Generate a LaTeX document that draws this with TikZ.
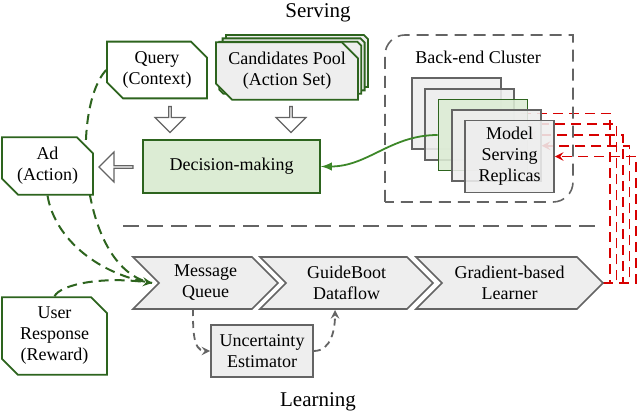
\documentclass[tikz,border=0pt]{standalone}
\usepackage{fontspec}
\setmainfont{Liberation Serif}
\usetikzlibrary{calc,shapes,arrows,backgrounds}

\definecolor{dkgreen}{RGB}{45,100,30}
\definecolor{lgreen}{RGB}{60,135,40}
\definecolor{decfill}{RGB}{220,236,212}
\definecolor{boxgray}{RGB}{238,238,238}
\definecolor{linegray}{RGB}{100,100,100}
\definecolor{fbred}{RGB}{215,0,0}

\tikzset{
  txt/.style={font=\fontsize{9}{10.5}\selectfont, align=center},
  title/.style={font=\fontsize{10.5}{12}\selectfont},
  ioblock/.style={txt, chamfered rectangle, chamfered rectangle corners={north east,south west},
    chamfered rectangle xsep=4pt, chamfered rectangle ysep=4pt, draw=dkgreen, line width=0.9pt,
    fill=white, inner sep=1pt},
  decide/.style={txt, rectangle, draw=dkgreen, line width=0.9pt, fill=decfill,
    minimum width=88.5pt, minimum height=26.5pt},
  replica/.style={txt, rectangle, draw=linegray, line width=0.8pt, fill=boxgray,
    fill opacity=0.88, text opacity=1, minimum width=44.5pt, minimum height=35.5pt},
  stage/.style={draw=linegray, fill=boxgray, line width=0.8pt},
  estbox/.style={txt, rectangle, draw=linegray, fill=boxgray, line width=0.8pt,
    minimum width=51pt, minimum height=26pt},
  blockarrow/.style={single arrow, draw=linegray, fill=white, line width=0.6pt, inner sep=0pt,
    minimum width=15pt, single arrow head extend=3.5pt, minimum height=13pt},
  feedback/.style={draw=fbred, line width=0.9pt, dash pattern=on 5pt off 3pt, -stealth},
  reward/.style={draw=dkgreen, line width=1pt, dash pattern=on 5pt off 3pt},
  flow/.style={draw=linegray, line width=0.9pt, dash pattern=on 3.5pt off 2.5pt, -stealth},
}

\begin{document}
\begin{tikzpicture}[x=0.5pt,y=-0.5pt]
\useasboundingbox (0,0) rectangle (640,415);

\node[title] (serving) at (318,13) {Serving};
\node[title] (learning) at (318,402) {Learning};

\node[ioblock, minimum width=50pt, minimum height=27pt] (query) at (157,70) {Query\\(Context)};
\foreach \i in {3,2,1}
  \node[ioblock, fill=boxgray, minimum width=71pt, minimum height=26pt] (cand\i)
    at ({287+3.3*\i},{71-3.3*\i}) {};
\node[ioblock, fill=boxgray, minimum width=71pt, minimum height=26pt] (cand) at (287,71)
  {Candidates Pool\\(Action Set)};

\node[blockarrow, shape border rotate=270] (qarr) at (170,119) {};
\node[blockarrow, shape border rotate=270] (carr) at (291,119) {};

\node[decide] (dec) at (231.5,166.5) {Decision-making};
\node[ioblock, minimum width=45.5pt, minimum height=22pt] (ad) at (47.5,166) {Ad\\(Action)};
\node[blockarrow, shape border rotate=180, minimum height=17pt] (adarr) at (116.5,167) {};

\draw[linegray, line width=0.8pt, dash pattern=on 6pt off 3.5pt]
  (385,202) -- (385,55) arc[start angle=180, end angle=90, radius=10pt] -- (573,35)
  -- (573,182) arc[start angle=0, end angle=-90, radius=10pt] -- cycle;
\node[txt] (clusterlabel) at (478,57) {Back-end Cluster};

\node[replica] (rep1) at (456.5,113.5) {};
\node[replica] (rep2) at (469.75,124.25) {};
\node[replica, draw=dkgreen, fill=decfill] (rep3) at (483,135) {};
\node[replica] (rep4) at (496.25,145.75) {};
\node[replica] (rep5) at (509.5,156.5) {Model\\Serving\\Replicas};

\draw[lgreen, line width=0.9pt, -latex] (rep3.west) to[out=180, in=0] (dec.east);

\draw[linegray, line width=1.2pt, dash pattern=on 8pt off 4pt] (123,226) -- (600,226);

\foreach \lft/\tip in {133/278, 260/433, 416/603}
  \draw[stage] (\lft,257) -- ({\tip-26},257) -- (\tip,283) -- ({\tip-26},309)
    -- (\lft,309) -- ({\lft+26},283) -- cycle;
\node[txt] (mq) at (205.5,283) {Message\\Queue};
\node[txt] (gd) at (346.5,283) {GuideBoot\\Dataflow};
\node[txt] (gl) at (509.5,283) {Gradient-based\\Learner};
\coordinate (mqin) at (152,283);
\coordinate (mqfoot) at (193,309);
\coordinate (gdfoot) at (335,310);
\coordinate (gltip) at (603,283);

\node[estbox] (ue) at (262,351) {Uncertainty\\Estimator};
\node[ioblock, minimum width=52.5pt, minimum height=31pt] (user) at (54.5,336)
  {User\\Response\\(Reward)};

\draw[flow] (mqfoot) to[out=-90, in=180] (ue.west);
\draw[flow] (ue.east) to[out=0, in=-90] (gdfoot);

\begin{scope}[on background layer]
  \foreach \k in {1,...,5}
    \draw[feedback] (gltip) -- ++({7+6.5*(\k-1)},0) |- (rep\k.east);
  \draw[reward] (query.west) .. controls (70,110) and (80,270) .. (mqin);
  \draw[reward] (ad.south) .. controls (55,240) and (100,275) .. (mqin);
  \draw[reward, -stealth] (user.north) .. controls (60,285) and (100,276) .. (mqin);
\end{scope}
\end{tikzpicture}
\end{document}
